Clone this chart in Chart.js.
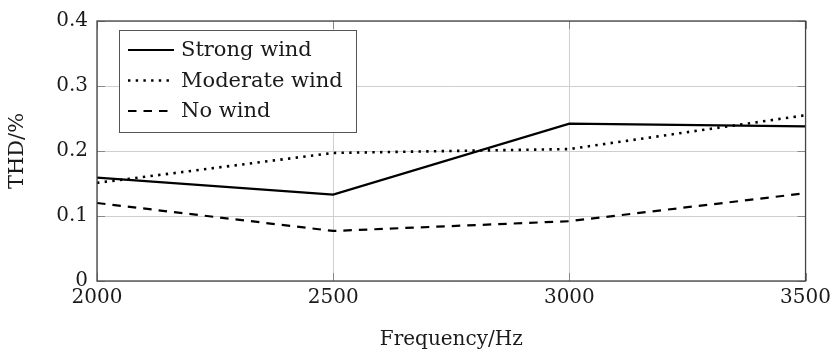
<!DOCTYPE html>
<html>
<head>
<meta charset="utf-8">
<script src="https://cdn.jsdelivr.net/npm/chart.js@4/dist/chart.umd.min.js"></script>
<style>
  html, body { margin: 0; padding: 0; background: #fff; }
  #wrap { width: 836px; height: 355px; position: relative; }
</style>
</head>
<body>
<div id="wrap"><canvas id="c" width="836" height="355"></canvas></div>
<script>
// ---- data ----
const frequencies = [2000, 2500, 3000, 3500];
const strongWind = [0.159, 0.133, 0.242, 0.238];
const moderateWind = [0.151, 0.197, 0.203, 0.255];
const noWind = [0.120, 0.077, 0.092, 0.135];
const seriesLabels = ['Strong wind', 'Moderate wind', 'No wind'];
const xTicks = [2000, 2500, 3000, 3500];
const yTicks = [0, 0.1, 0.2, 0.3, 0.4];

const FONT = '"DejaVu Serif", "Liberation Serif", serif';
const TEXT = '#1a1a1a';

function pts(vals) { return frequencies.map((f, i) => ({ x: f, y: vals[i] })); }

// Legend drawn inside the plot area (pgfplots style)
const innerLegend = {
  id: 'innerLegend',
  afterDraw(chart) {
    const ctx = chart.ctx, ca = chart.chartArea;
    const left = ca.left + 22, top = ca.top + 9, w = 237, h = 102;
    ctx.save();
    ctx.fillStyle = '#fff';
    ctx.fillRect(left, top, w, h);
    ctx.strokeStyle = '#555';
    ctx.lineWidth = 1;
    ctx.strokeRect(left + 0.5, top + 0.5, w, h);
    ctx.font = '21px ' + FONT;
    ctx.textBaseline = 'middle';
    ctx.fillStyle = TEXT;
    chart.data.datasets.forEach((ds, i) => {
      const y = top + 20 + i * 30.5;
      ctx.beginPath();
      ctx.setLineDash(ds.borderDash || []);
      ctx.lineWidth = ds.borderWidth;
      ctx.strokeStyle = ds.borderColor;
      ctx.lineCap = 'butt';
      ctx.moveTo(left + 9, y);
      ctx.lineTo(left + 55, y);
      ctx.stroke();
      ctx.setLineDash([]);
      ctx.fillText(ds.label, left + 62, y + 1);
    });
    ctx.restore();
  }
};

// Frame and inward tick marks on all four sides
const frame = {
  id: 'frame',
  afterDatasetsDraw(chart) {
    const ctx = chart.ctx, ca = chart.chartArea;
    const xs = chart.scales.x, ys = chart.scales.y;
    ctx.save();
    ctx.strokeStyle = '#888';
    ctx.lineWidth = 1;
    ctx.beginPath();
    xTicks.forEach(v => {
      const px = Math.round(xs.getPixelForValue(v)) + 0.5;
      ctx.moveTo(px, ca.bottom); ctx.lineTo(px, ca.bottom - 8);
      ctx.moveTo(px, ca.top); ctx.lineTo(px, ca.top + 8);
    });
    yTicks.forEach(v => {
      const py = Math.round(ys.getPixelForValue(v)) + 0.5;
      ctx.moveTo(ca.left, py); ctx.lineTo(ca.left + 8, py);
      ctx.moveTo(ca.right, py); ctx.lineTo(ca.right - 8, py);
    });
    ctx.stroke();
    ctx.strokeStyle = '#444';
    ctx.lineWidth = 1.3;
    ctx.strokeRect(ca.left, ca.top, ca.right - ca.left, ca.bottom - ca.top);
    ctx.restore();
  }
};

new Chart(document.getElementById('c'), {
  type: 'line',
  data: {
    datasets: [
      { label: seriesLabels[0], data: pts(strongWind), borderColor: '#000', borderWidth: 2.2, borderDash: [], pointRadius: 0, fill: false, tension: 0 },
      { label: seriesLabels[1], data: pts(moderateWind), borderColor: '#000', borderWidth: 2.6, borderDash: [2.4, 5.3], pointRadius: 0, fill: false, tension: 0 },
      { label: seriesLabels[2], data: pts(noWind), borderColor: '#000', borderWidth: 2.2, borderDash: [8.5, 7], pointRadius: 0, fill: false, tension: 0 }
    ]
  },
  options: {
    responsive: false,
    animation: false,
    devicePixelRatio: 1,
    layout: { padding: { top: 16, right: 28, left: 0, bottom: 0 } },
    plugins: { legend: { display: false }, tooltip: { enabled: false } },
    scales: {
      x: {
        type: 'linear',
        min: 2000, max: 3500,
        afterBuildTicks(scale) { scale.ticks = xTicks.map(v => ({ value: v })); },
        afterFit(scale) { scale.height = 74; },
        grid: { color: '#cfcfcf', lineWidth: 1, drawTicks: false },
        border: { display: false },
        ticks: { color: TEXT, font: { family: FONT, size: 20 }, padding: 5, maxRotation: 0, autoSkip: false,
                 callback: v => String(v) },
        title: { display: true, text: 'Frequency/Hz', color: TEXT, font: { family: FONT, size: 20, lineHeight: 1 }, padding: { top: 0, bottom: 5 } }
      },
      y: {
        min: 0, max: 0.4,
        afterBuildTicks(scale) { scale.ticks = yTicks.map(v => ({ value: v })); },
        afterFit(scale) { scale.width = 97; },
        grid: { color: '#cfcfcf', lineWidth: 1, drawTicks: false },
        border: { display: false },
        ticks: { color: TEXT, font: { family: FONT, size: 20 }, padding: 9,
                 callback: v => (v === 0 ? '0' : v.toFixed(1)) },
        title: { display: true, text: 'THD/%', color: TEXT, font: { family: FONT, size: 21, lineHeight: 1 }, padding: { top: 7, bottom: 0 } }
      }
    }
  },
  plugins: [frame, innerLegend]
});
</script>
</body>
</html>
